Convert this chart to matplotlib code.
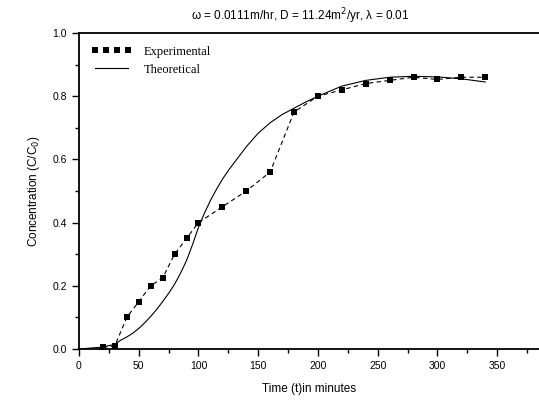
import matplotlib.pyplot as plt
from matplotlib.lines import Line2D
from matplotlib.ticker import MultipleLocator

# experimental points (time in minutes, C/C0)
t_exp = [20, 30, 40, 50, 60, 70, 80, 90, 100, 120, 140, 160, 180, 200, 220, 240, 260, 280, 300, 320, 340]
c_exp = [0.005, 0.01, 0.10, 0.15, 0.20, 0.225, 0.30, 0.35, 0.40, 0.45, 0.50, 0.56, 0.75, 0.80, 0.82, 0.84, 0.85, 0.86, 0.853, 0.86, 0.86]

# theoretical curve
t_theo = [0, 10, 20, 30, 35, 40, 45, 50, 55, 60, 65, 70, 75, 80, 85, 90, 95, 100, 105, 110,
          115, 120, 125, 130, 140, 150, 160, 170, 180, 190, 200, 220, 240, 260, 280, 300, 320, 340]
c_theo = [0.0, 0.003, 0.006, 0.015, 0.028, 0.038, 0.05, 0.065, 0.083, 0.103, 0.125, 0.15, 0.176,
          0.205, 0.24, 0.28, 0.33, 0.385, 0.43, 0.47, 0.505, 0.537, 0.565, 0.59, 0.64, 0.683,
          0.716, 0.742, 0.762, 0.782, 0.80, 0.832, 0.85, 0.86, 0.863, 0.861, 0.855, 0.845]

title = "\u03c9 = 0.0111m/hr, D = 11.24m$^2$/yr, \u03bb = 0.01"

fig = plt.figure(figsize=(5.39, 4.0), dpi=100)
ax = fig.add_axes([79 / 539, 1 - 349 / 400, 1 - 79 / 539, (349 - 33) / 400])

ax.plot(t_exp, c_exp, color='black', lw=0.8, ls=(0, (4, 3)),
        marker='s', markersize=4.5, markeredgewidth=0)
ax.plot(t_theo, c_theo, color='black', lw=0.8)

ax.set_xlim(0, 385)
ax.set_ylim(0, 1.0)
ax.xaxis.set_major_locator(MultipleLocator(50))
ax.xaxis.set_minor_locator(MultipleLocator(25))
ax.yaxis.set_major_locator(MultipleLocator(0.2))
ax.yaxis.set_minor_locator(MultipleLocator(0.1))
ax.tick_params(which='both', direction='out', width=1, labelsize=7.5, top=False, right=False)
ax.tick_params(which='major', length=5)
ax.tick_params(which='minor', length=3)
ax.yaxis.set_major_formatter(plt.FuncFormatter(lambda v, p: f"{v:.1f}"))
for lbl in ax.get_xticklabels() + ax.get_yticklabels():
    lbl.set_family('Liberation Sans')

ax.spines['right'].set_visible(False)
for s in ['left', 'bottom', 'top']:
    ax.spines[s].set_linewidth(1.3)

ax.set_xlabel('Time (t)in minutes', family='Liberation Sans', fontsize=8.5, labelpad=9)
ax.set_ylabel('Concentration (C/C$_0$)', family='Liberation Sans', fontsize=8.5, labelpad=8)
fig.text(300 / 539, 1 - 16 / 400, title, ha='center', va='center',
         family='Liberation Sans', fontsize=8.5)

handles = [Line2D([], [], color='black', ls='none', marker='s', markersize=4, markeredgewidth=0),
           Line2D([], [], color='black', lw=0.8)]
ax.legend(handles, ['Experimental', 'Theoretical'], loc='upper left', frameon=False,
          numpoints=4, handlelength=3.2, handletextpad=1.0, borderaxespad=0.6,
          labelspacing=0.5, prop={'family': 'Liberation Serif', 'size': 9})

fig.savefig('out.png', dpi=100)
